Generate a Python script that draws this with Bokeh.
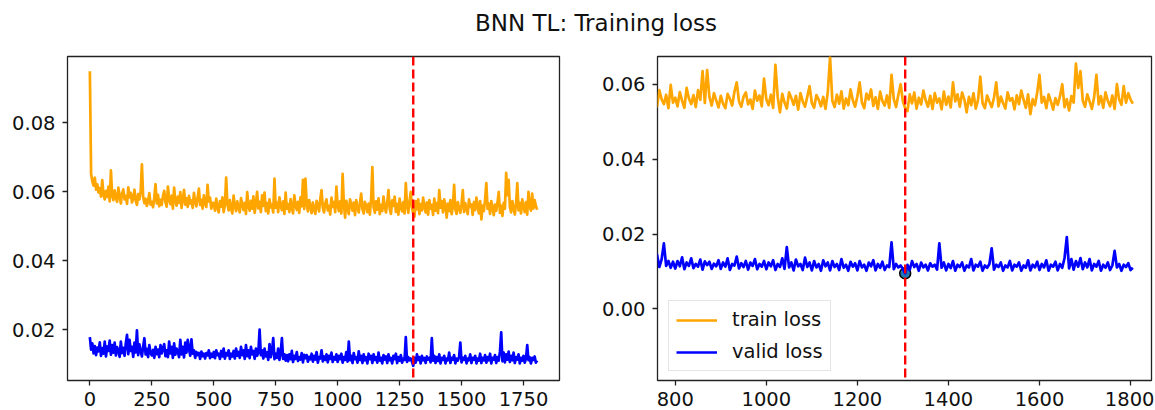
import numpy as np
from bokeh.plotting import figure
from bokeh.models import Range1d, FixedTicker, PrintfTickFormatter, Span, Div
from bokeh.layouts import row, column
from bokeh.embed import file_html
from bokeh.resources import INLINE

TITLE = "BNN TL: Training loss"
EPOCH_STEP = 5  # one reading every 5 epochs

# train loss, in units of 1e-4, epochs 0,5,...,1805 (one row = 100 epochs)
train_loss_e4 = [
    950, 652, 630, 618, 641, 606, 622, 598, 611, 586, 634, 592, 578, 603, 585, 615, 572, 662, 590, 576,
    604, 583, 571, 612, 589, 566, 595, 607, 578, 588, 565, 613, 584, 597, 569, 581, 606, 574, 562, 593,
    578, 601, 680, 586, 567, 580, 559, 574, 596, 563, 571, 555, 583, 622, 566, 591, 558, 577, 562, 587,
    603, 571, 557, 615, 578, 564, 589, 551, 612, 574, 560, 586, 568, 599, 553, 578, 606, 563, 581, 556,
    588, 566, 575, 553, 597, 571, 558, 584, 609, 562, 577, 551, 590, 567, 556, 620, 572, 583, 551, 568,
    567, 545, 580, 554, 540, 573, 557, 584, 541, 562, 641, 566, 546, 576, 550, 537, 589, 559, 544, 572,
    555, 540, 582, 563, 547, 568, 536, 599, 558, 545, 574, 551, 587, 539, 564, 600, 552, 571, 541, 590,
    559, 598, 544, 567, 537, 578, 555, 563, 540, 638, 554, 569, 541, 584, 560, 547, 572, 536, 598, 551,
    564, 541, 579, 556, 537, 590, 562, 547, 571, 539, 584, 558, 635, 550, 638, 566, 543, 576, 557, 538,
    569, 548, 536, 574, 561, 543, 580, 605, 554, 540, 567, 578, 546, 559, 534, 583, 556, 570, 541, 615,
    560, 544, 572, 537, 652, 566, 525, 574, 551, 535, 578, 563, 545, 569, 532, 576, 554, 540, 567, 595,
    550, 537, 571, 559, 541, 566, 534, 579, 672, 556, 539, 572, 548, 581, 535, 562, 544, 586, 557, 540,
    568, 605, 551, 536, 575, 559, 586, 542, 565, 534, 580, 555, 543, 570, 537, 625, 560, 539, 572, 600,
    554, 536, 528, 573, 549, 578, 535, 564, 546, 583, 557, 540, 569, 534, 576, 551, 562, 533, 580, 545,
    567, 538, 605, 554, 573, 540, 578, 559, 525, 566, 544, 576, 535, 558, 620, 549, 536, 570, 553, 539,
    564, 605, 541, 567, 550, 535, 578, 556, 563, 533, 570, 547, 583, 559, 537, 573, 520, 560, 544, 578,
    625, 551, 566, 536, 573, 554, 532, 563, 545, 568, 600, 539, 560, 530, 568, 551, 655, 590, 635, 556,
    540, 573, 554, 534, 565, 625, 546, 568, 537, 578, 556, 541, 570, 534, 600, 559, 545, 595, 551, 576,
    559, 548,
]

# valid loss, in units of 1e-4, epochs 0,5,...,1805 (one row = 100 epochs)
valid_loss_e4 = [
    178, 142, 160, 131, 152, 126, 148, 137, 163, 124, 146, 130, 165, 122, 151, 138, 168, 127, 155, 133,
    162, 125, 149, 140, 121, 165, 132, 147, 124, 160, 185, 129, 170, 138, 150, 121, 162, 134, 198, 126,
    157, 138, 122, 150, 175, 128, 144, 120, 155, 133, 125, 141, 118, 150, 129, 142, 120, 155, 131, 146,
    158, 123, 140, 120, 165, 131, 150, 118, 160, 127, 145, 136, 120, 170, 128, 150, 119, 162, 133, 170,
    145, 124, 172, 130, 140, 118, 135, 126, 132, 115, 136, 123, 130, 116, 132, 125, 140, 117, 130, 121,
    135, 117, 140, 126, 130, 115, 138, 122, 145, 116, 132, 125, 140, 115, 130, 122, 138, 116, 145, 124,
    135, 118, 150, 126, 140, 115, 155, 123, 140, 117, 150, 128, 138, 115, 145, 124, 135, 200, 126, 140,
    116, 145, 122, 134, 112, 158, 120, 136, 175, 114, 130, 118, 145, 112, 132, 175, 115, 128, 110, 126,
    108, 128, 114, 138, 106, 124, 115, 135, 109, 120, 113, 132, 105, 127, 117, 126, 107, 121, 114, 130,
    107, 124, 113, 135, 104, 120, 116, 140, 108, 122, 112, 128, 105, 124, 115, 133, 106, 120, 113, 128,
    106, 124, 114, 130, 104, 120, 112, 135, 107, 165, 111, 124, 103, 132, 114, 120, 104, 137, 112, 124,
    103, 128, 111, 120, 102, 130, 114, 124, 103, 128, 112, 120, 104, 133, 110, 118, 102, 126, 113, 122,
    103, 128, 111, 118, 102, 124, 114, 130, 103, 120, 110, 126, 104, 116, 112, 178, 106, 120, 111, 116,
    107, 95, 118, 104, 128, 112, 120, 102, 124, 111, 118, 103, 122, 113, 118, 105, 175, 110, 124, 103,
    120, 109, 128, 102, 118, 112, 124, 102, 116, 111, 133, 103, 118, 113, 126, 102, 116, 110, 120, 162,
    105, 118, 112, 124, 102, 116, 111, 128, 103, 118, 113, 124, 102, 116, 110, 130, 103, 118, 111, 126,
    104, 120, 111, 130, 102, 118, 113, 126, 103, 120, 110, 136, 192, 108, 133, 105, 128, 113, 136, 106,
    124, 111, 133, 103, 120, 113, 128, 102, 118, 110, 124, 104, 116, 155, 111, 120, 102, 118, 112, 122,
    104, 110,
]

left_xticks = [0, 250, 500, 750, 1000, 1250, 1500, 1750]
left_yticks = [0.02, 0.04, 0.06, 0.08]
right_xticks = [800, 1000, 1200, 1400, 1600, 1800]
right_yticks = [0.00, 0.02, 0.04, 0.06]
right_xlim = [761, 1846]
right_ylim = [-0.0191, 0.0674]

assert len(train_loss_e4) == len(valid_loss_e4)
epochs = np.arange(len(train_loss_e4)) * EPOCH_STEP
train_loss = np.array(train_loss_e4) / 1e4
valid_loss = np.array(valid_loss_e4) / 1e4
best_i = int(np.argmin(valid_loss))
best_epoch = int(epochs[best_i])
best_val = float(valid_loss[best_i])

FONT = "DejaVu Sans"
ORANGE = "#FFA500"
BLUE = "#0000FF"
LW = 2.7
TICK_FS = "19.5px"


def style(p, xticks, yticks, xfmt, yfmt):
    p.xaxis.ticker = FixedTicker(ticks=xticks)
    p.yaxis.ticker = FixedTicker(ticks=yticks)
    p.xaxis.formatter = PrintfTickFormatter(format=xfmt)
    p.yaxis.formatter = PrintfTickFormatter(format=yfmt)
    p.xgrid.visible = False
    p.ygrid.visible = False
    p.outline_line_color = "#222222"
    p.outline_line_width = 1.3
    for ax in (p.xaxis, p.yaxis):
        ax.axis_line_color = None
        ax.major_tick_line_color = "#222222"
        ax.major_tick_line_width = 1.3
        ax.major_tick_in = 0
        ax.major_tick_out = 5
        ax.minor_tick_line_color = None
        ax.major_label_text_font = FONT
        ax.major_label_text_font_size = TICK_FS
        ax.major_label_text_color = "#111111"
    p.xaxis.major_label_standoff = 6
    p.yaxis.major_label_standoff = 7
    p.background_fill_color = "white"
    p.border_fill_color = "white"


# left panel: full history
xpad = (epochs[-1] - epochs[0]) * 0.05
ymin = min(train_loss.min(), valid_loss.min())
ymax = max(train_loss.max(), valid_loss.max())
ypad = (ymax - ymin) * 0.05
p1 = figure(frame_width=492, frame_height=324, min_border_left=67, min_border_right=20,
            min_border_top=8, min_border_bottom=30,
            x_range=Range1d(epochs[0] - xpad, epochs[-1] + xpad),
            y_range=Range1d(ymin - ypad, ymax + ypad),
            output_backend="svg", toolbar_location=None)
style(p1, left_xticks, left_yticks, "%d", "%.2f")
p1.line(epochs, train_loss, line_color=ORANGE, line_width=LW, line_join="round")
p1.line(epochs, valid_loss, line_color=BLUE, line_width=LW, line_join="round")
p1.add_layout(Span(location=best_epoch, dimension="height", line_color="#FF0000",
                   line_width=2.4, line_dash="9 4"))

# right panel: zoom on later epochs
p2 = figure(frame_width=494, frame_height=324, min_border_left=78, min_border_right=3,
            min_border_top=8, min_border_bottom=30,
            x_range=Range1d(*right_xlim), y_range=Range1d(*right_ylim),
            output_backend="svg", toolbar_location=None)
style(p2, right_xticks, right_yticks, "%d", "%.2f")
p2.scatter([best_epoch], [best_val], size=11, fill_color="#1f77b4", line_color="black",
           line_width=1.5)
p2.line(epochs, train_loss, line_color=ORANGE, line_width=LW, line_join="round",
        legend_label="train loss")
p2.line(epochs, valid_loss, line_color=BLUE, line_width=LW, line_join="round",
        legend_label="valid loss")
p2.add_layout(Span(location=best_epoch, dimension="height", line_color="#FF0000",
                   line_width=2.4, line_dash="9 4"))
lg = p2.legend[0]
lg.location = (11, 9)
lg.label_text_font = FONT
lg.label_text_font_size = TICK_FS
lg.label_text_color = "#111111"
lg.glyph_width = 41
lg.glyph_height = 20
lg.label_height = 20
lg.label_standoff = 15
lg.spacing = 9
lg.padding = 7
lg.margin = 0
lg.border_line_color = "#cccccc"
lg.border_line_width = 1.3
lg.background_fill_alpha = 0.8

title = Div(text=('<div style="width:1154px;text-align:center;font-family:\'DejaVu Sans\';'
                  'font-size:23px;line-height:normal;color:#111;padding-top:10px;'
                  'position:relative;left:19px;">' + TITLE + '</div>'),
            width=1154, height=48, margin=0)

layout = column(title, row(p1, p2, spacing=0), spacing=0)

open("out.html", "w").write(file_html(layout, INLINE))
